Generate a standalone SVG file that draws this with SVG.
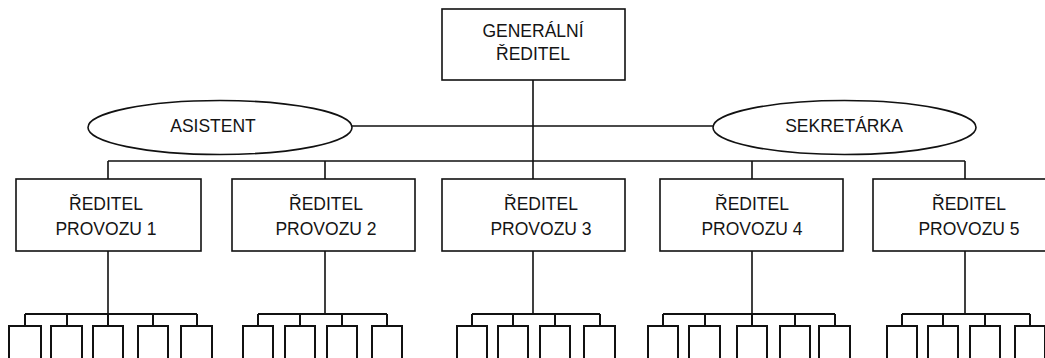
<svg xmlns="http://www.w3.org/2000/svg" width="1045" height="358" viewBox="0 0 1045 358">
<style>
.box{fill:#fff;stroke:#111;stroke-width:1.6}
.sub{fill:#fff;stroke:#111;stroke-width:2}
.ell{fill:#fff;stroke:#111;stroke-width:1.6}
.ln{fill:none;stroke:#111;stroke-width:1.6}
.sl{fill:none;stroke:#111;stroke-width:2}
text{font-family:"Liberation Sans",Arial,sans-serif;font-size:17.5px;fill:#141414;text-anchor:middle}
</style>
<rect width="1045" height="358" fill="#fff"/>
<g id="connectors">
<path class="ln" d="M533 80V161M352 126H713M108 161H965M108 161V179M325 161V179M533 161V179M752 161V179M965 161V179"/>
<path class="ln" d="M108 251V314M325 251V314M533 251V314M752 251V314M965 251V314"/>
<path class="sl" d="M25 314H197M25 314V326M67 314V326M108 314V326M153 314V326M197 314V326"/>
<path class="sl" d="M258 314H387M258 314V326M300 314V326M342 314V326M387 314V326"/>
<path class="sl" d="M472 314H600M472 314V326M513 314V326M555 314V326M600 314V326"/>
<path class="sl" d="M663 314H835M663 314V326M705 314V326M752 314V326M795 314V326M835 314V326"/>
<path class="sl" d="M902 314H1030M902 314V326M943 314V326M985 314V326M1030 314V326"/>
</g>
<g id="gr">
<rect class="box" x="442" y="9" width="183" height="71"/>
<text x="533" y="37">GENERÁLNÍ</text>
<text x="533" y="60">ŘEDITEL</text>
</g>
<g id="asistent">
<ellipse class="ell" cx="220" cy="127.5" rx="132" ry="27"/>
<text x="213" y="132">ASISTENT</text>
</g>
<g id="sekretarka">
<ellipse class="ell" cx="844.5" cy="127.5" rx="131.5" ry="27"/>
<text x="844" y="132">SEKRETÁRKA</text>
</g>
<g id="r1">
<rect class="box" x="16" y="179" width="185" height="72"/>
<text x="106" y="210">ŘEDITEL</text>
<text x="106" y="235">PROVOZU 1</text>
</g>
<g id="r2">
<rect class="box" x="232" y="179" width="183" height="72"/>
<text x="326" y="210">ŘEDITEL</text>
<text x="326" y="235">PROVOZU 2</text>
</g>
<g id="r3">
<rect class="box" x="442" y="179" width="183" height="72"/>
<text x="541" y="210">ŘEDITEL</text>
<text x="541" y="235">PROVOZU 3</text>
</g>
<g id="r4">
<rect class="box" x="660" y="179" width="183" height="72"/>
<text x="752" y="210">ŘEDITEL</text>
<text x="752" y="235">PROVOZU 4</text>
</g>
<g id="r5">
<rect class="box" x="873" y="179" width="183" height="72"/>
<text x="969" y="210">ŘEDITEL</text>
<text x="969" y="235">PROVOZU 5</text>
</g>
<g id="s1">
<rect class="sub" x="9" y="326" width="32" height="40"/>
<rect class="sub" x="51" y="326" width="31" height="40"/>
<rect class="sub" x="93" y="326" width="30" height="40"/>
<rect class="sub" x="138" y="326" width="30" height="40"/>
<rect class="sub" x="181" y="326" width="31" height="40"/>
</g>
<g id="s2">
<rect class="sub" x="243" y="326" width="30" height="40"/>
<rect class="sub" x="285" y="326" width="30" height="40"/>
<rect class="sub" x="327" y="326" width="30" height="40"/>
<rect class="sub" x="372" y="326" width="30" height="40"/>
</g>
<g id="s3">
<rect class="sub" x="457" y="326" width="30" height="40"/>
<rect class="sub" x="498" y="326" width="30" height="40"/>
<rect class="sub" x="540" y="326" width="30" height="40"/>
<rect class="sub" x="584" y="326" width="31" height="40"/>
</g>
<g id="s4">
<rect class="sub" x="648" y="326" width="30" height="40"/>
<rect class="sub" x="689" y="326" width="31" height="40"/>
<rect class="sub" x="737" y="326" width="30" height="40"/>
<rect class="sub" x="780" y="326" width="30" height="40"/>
<rect class="sub" x="819" y="326" width="31" height="40"/>
</g>
<g id="s5">
<rect class="sub" x="887" y="326" width="30" height="40"/>
<rect class="sub" x="928" y="326" width="30" height="40"/>
<rect class="sub" x="970" y="326" width="30" height="40"/>
<rect class="sub" x="1015" y="326" width="30" height="40"/>
</g>
</svg>
